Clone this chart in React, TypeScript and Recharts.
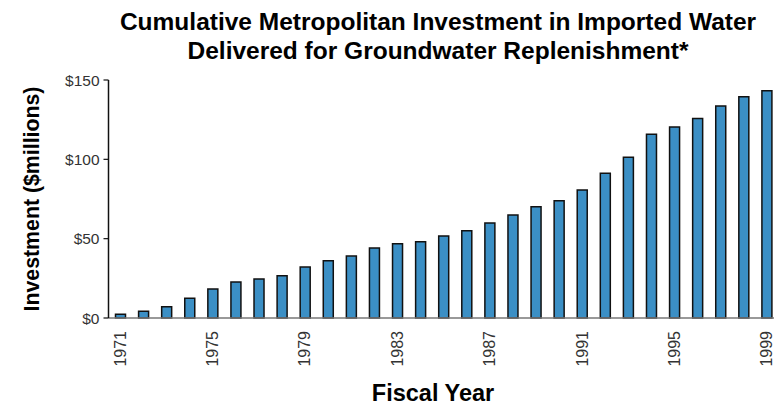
import { Bar, BarChart, XAxis, YAxis } from "recharts"

const years = [
  "1971", "1972", "1973", "1974", "1975", "1976", "1977", "1978", "1979", "1980",
  "1981", "1982", "1983", "1984", "1985", "1986", "1987", "1988", "1989", "1990",
  "1991", "1992", "1993", "1994", "1995", "1996", "1997", "1998", "1999",
]

// cumulative investment, $ millions
const investment = [
  2.3, 4.2, 7.1, 12.4, 18.3, 22.7, 24.6, 26.7, 32.1, 36.1,
  39.0, 44.1, 46.8, 48.1, 51.7, 55.0, 59.9, 64.9, 70.1, 73.9,
  80.7, 91.2, 101.3, 115.8, 120.4, 125.8, 133.6, 139.5, 143.2,
]

const yTicks = [0, 50, 100, 150]

const titleLines = [
  "Cumulative Metropolitan Investment in Imported Water",
  "Delivered for Groundwater Replenishment*",
]

const FONT = "'Liberation Sans', Arial, sans-serif"

function YearTick(props: any) {
  const { x, y, payload } = props
  const ty = y + 5
  return (
    <text
      x={x}
      y={ty}
      dy="0.36em"
      transform={`rotate(-90, ${x}, ${ty})`}
      textAnchor="end"
      fontSize={16}
      fontFamily={FONT}
      fill="#333"
    >
      {payload.value}
    </text>
  )
}

export default function App() {
  const rows = years.map((y, i) => ({ year: y, value: investment[i] }))
  return (
    <div
      style={{
        position: "absolute",
        left: 0,
        top: 0,
        width: 774,
        height: 405,
        overflow: "hidden",
        background: "#fff",
        fontFamily: FONT,
      }}
    >
      <BarChart
        width={780}
        height={405}
        data={rows}
        margin={{ top: 80, right: 2, bottom: 10, left: 0 }}
      >
        <XAxis
          dataKey="year"
          height={77}
          interval={3}
          tickLine={false}
          axisLine={{ stroke: "#777", strokeWidth: 1.5 }}
          tick={<YearTick />}
        />
        <YAxis
          width={108.5}
          domain={[0, 150]}
          ticks={yTicks}
          tickFormatter={(v) => `$${v}`}
          tickSize={5}
          tickMargin={4}
          axisLine={{ stroke: "#111", strokeWidth: 1.5 }}
          tickLine={{ stroke: "#111", strokeWidth: 1.2 }}
          tick={{ fontSize: 15.5, fill: "#333", fontFamily: FONT }}
        />
        <Bar
          dataKey="value"
          barSize={10}
          fill="#3b8fc5"
          stroke="#111"
          strokeWidth={1.5}
          isAnimationActive={false}
        />
      </BarChart>
      {titleLines.map((t, i) => (
        <div
          key={i}
          style={{
            position: "absolute",
            left: 438,
            top: 22 + i * 29,
            transform: "translate(-50%, -50%)",
            whiteSpace: "nowrap",
            fontSize: 24.5,
            fontWeight: "bold",
            color: "#000",
          }}
        >
          {t}
        </div>
      ))}
      <div
        style={{
          position: "absolute",
          left: 32,
          top: 199,
          transform: "translate(-50%, -50%) rotate(-90deg)",
          whiteSpace: "nowrap",
          fontSize: 21.3,
          fontWeight: "bold",
          color: "#000",
        }}
      >
        Investment ($millions)
      </div>
      <div
        style={{
          position: "absolute",
          left: 433,
          top: 393,
          transform: "translate(-50%, -50%)",
          whiteSpace: "nowrap",
          fontSize: 23.5,
          fontWeight: "bold",
          color: "#000",
        }}
      >
        Fiscal Year
      </div>
    </div>
  )
}
